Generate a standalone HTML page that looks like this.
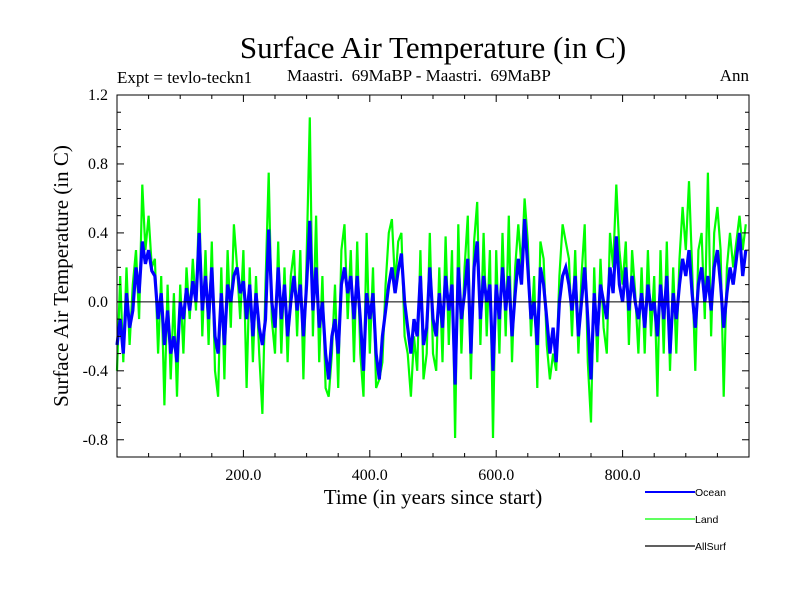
<!DOCTYPE html>
<html><head><meta charset="utf-8"><style>
body{margin:0;background:#fff;}
svg text{font-family:"Liberation Serif",serif;}
</style></head><body>
<svg id="chart" width="800" height="600" xmlns="http://www.w3.org/2000/svg">
<rect width="800" height="600" fill="#fff"/>
<text x="433" y="58" font-size="31" text-anchor="middle">Surface Air Temperature (in C)</text>
<text x="117" y="83" font-size="17">Expt = tevlo-teckn1</text>
<text x="287" y="81" font-size="17">Maastri.&#160; 69MaBP - Maastri.&#160; 69MaBP</text>
<text x="749" y="81" font-size="17" text-anchor="end">Ann</text>
<text transform="translate(68,276) rotate(-90)" font-size="21" text-anchor="middle">Surface Air Temperature (in C)</text>
<text x="433" y="504" font-size="21" text-anchor="middle">Time (in years since start)</text>
<g id="plot"></g>
<g id="axes"></g>
<g>
<line x1="645" y1="492" x2="695" y2="492" stroke="#0000ff" stroke-width="2"/>
<text x="695" y="496" font-size="10.5" style="font-family:'Liberation Sans',sans-serif">Ocean</text>
<line x1="645" y1="519" x2="695" y2="519" stroke="#00ff00" stroke-width="1.2"/>
<text x="695" y="523" font-size="10.5" style="font-family:'Liberation Sans',sans-serif">Land</text>
<line x1="645" y1="546" x2="695" y2="546" stroke="#000" stroke-width="1.2"/>
<text x="695" y="550" font-size="10.5" style="font-family:'Liberation Sans',sans-serif">AllSurf</text>
</g>
</svg>
<script>
const yearStep = 5;
const oceanValues = [-0.25,-0.1,-0.3,0.05,-0.15,-0.05,0.2,0.05,0.35,0.22,0.3,0.18,0.15,-0.1,0.05,-0.25,-0.05,-0.3,-0.2,-0.35,
0.0,-0.1,0.08,-0.05,0.12,0.0,0.4,-0.05,0.15,-0.1,0.2,-0.2,-0.3,0.05,-0.25,0.1,0.0,0.15,0.2,0.05,
0.12,-0.1,0.1,-0.2,0.05,-0.15,-0.25,-0.1,0.42,0.0,-0.15,0.2,-0.1,0.1,-0.2,0.0,0.15,-0.05,0.1,-0.2,
0.1,0.47,-0.05,0.2,-0.15,0.0,-0.3,-0.45,-0.2,-0.1,-0.3,0.1,0.2,0.05,0.15,-0.1,0.15,-0.1,-0.4,0.05,
-0.1,0.05,-0.3,-0.45,-0.2,-0.05,0.1,0.2,0.05,0.18,0.28,0.0,-0.15,-0.3,-0.1,-0.2,0.15,-0.25,-0.15,0.2,
-0.1,-0.2,0.05,-0.15,0.15,-0.05,0.1,-0.48,0.2,-0.1,0.05,0.25,-0.3,0.2,0.35,-0.1,0.15,0.0,0.1,-0.4,
0.1,-0.1,0.2,-0.05,0.15,-0.2,0.05,0.25,0.1,0.48,0.2,-0.1,0.0,-0.25,0.2,0.1,-0.1,-0.3,-0.15,-0.35,
0.0,0.15,0.2,0.1,-0.05,0.15,-0.2,0.0,0.2,-0.1,-0.45,0.05,-0.2,0.1,0.0,-0.1,0.2,0.05,0.38,0.1,
0.0,0.2,-0.05,0.15,0.0,-0.1,0.05,-0.15,0.1,-0.05,0.0,-0.2,0.1,-0.1,0.15,-0.3,0.05,-0.1,0.1,0.25,
0.15,0.3,0.05,-0.15,0.1,0.2,0.0,0.15,-0.05,0.2,0.3,0.1,-0.15,0.05,0.2,0.1,0.25,0.4,0.15,0.3];
const landValues = [-0.4,0.15,-0.35,0.2,-0.25,0.1,0.3,-0.1,0.68,0.3,0.5,0.2,0.25,-0.3,0.15,-0.6,0.1,-0.45,0.05,-0.55,
0.1,-0.3,0.2,-0.1,0.25,-0.05,0.6,-0.2,0.3,-0.25,0.35,-0.4,-0.55,0.2,-0.45,0.3,-0.15,0.45,0.2,-0.1,
0.3,-0.5,0.2,-0.35,0.15,-0.3,-0.65,0.1,0.75,-0.1,-0.3,0.35,-0.3,0.2,-0.35,0.15,0.3,-0.2,0.3,-0.45,
0.25,1.07,-0.2,0.5,-0.35,0.15,-0.5,-0.55,-0.3,0.1,-0.5,0.3,0.45,-0.1,0.3,-0.35,0.35,-0.3,-0.55,0.4,
-0.3,0.2,-0.5,-0.45,-0.35,0.1,0.4,0.48,0.1,0.35,0.4,-0.2,-0.3,-0.55,-0.2,-0.4,0.3,-0.45,-0.3,0.4,
-0.3,-0.4,0.2,-0.35,0.38,-0.25,0.3,-0.79,0.45,-0.3,0.2,0.5,-0.45,0.35,0.58,-0.25,0.4,-0.2,0.3,-0.79,
0.3,-0.3,0.4,-0.2,0.5,-0.35,0.2,0.45,0.2,0.6,0.35,-0.2,0.15,-0.5,0.35,0.25,-0.25,-0.45,-0.3,-0.4,
0.15,0.45,0.35,0.25,-0.2,0.3,-0.3,0.15,0.45,-0.35,-0.7,0.2,-0.35,0.25,-0.15,-0.3,0.4,0.2,0.68,0.3,
0.1,0.35,-0.25,0.3,0.05,-0.3,0.2,-0.3,0.3,-0.2,0.15,-0.55,0.3,-0.3,0.35,-0.4,0.2,-0.3,0.25,0.55,
0.3,0.7,0.2,-0.4,0.3,0.4,-0.1,0.75,-0.2,0.4,0.55,0.3,-0.55,0.2,0.4,0.2,0.35,0.5,0.3,0.45];
const xTickValues = [200,400,600,800];
const xTickLabels = ["200.0","400.0","600.0","800.0"];
const yTickValues = [1.2,0.8,0.4,0.0,-0.4,-0.8];
const yTickLabels = ["1.2","0.8","0.4","0.0","-0.4","-0.8"];

const NS="http://www.w3.org/2000/svg";
const L=117,R=749,T=95,B=457,XMIN=0,XMAX=1000,YMIN=-0.9,YMAX=1.2;
const xs=v=>L+(v-XMIN)/(XMAX-XMIN)*(R-L);
const ys=v=>B-(v-YMIN)/(YMAX-YMIN)*(B-T);
const plot=document.getElementById('plot'), axes=document.getElementById('axes');
function mk(tag,parent,attrs){const e=document.createElementNS(NS,tag);for(const k in attrs)e.setAttribute(k,attrs[k]);parent.appendChild(e);return e;}
function series(vals,color,w,name){
  const d=vals.map((v,i)=>(i?'L':'M')+xs(i*yearStep).toFixed(1)+','+ys(v).toFixed(1)).join('');
  const p=mk('path',plot,{d:d,fill:'none',stroke:color,'stroke-width':w,'stroke-linejoin':'miter'});
  
  
}
series(landValues,'#00ff00',2.2,'land-series');
series(oceanValues,'#0000ff',3.2,'ocean-series');
const zl=mk('line',axes,{x1:L,x2:R,y1:ys(0),y2:ys(0),stroke:'#000','stroke-width':1});


const fr=mk('rect',axes,{x:L,y:T,width:R-L,height:B-T,fill:'none',stroke:'#000','stroke-width':1});


for(let v=50;v<XMAX;v+=50){
  const major=v%200===0, len=major?7:4, x=xs(v);
  mk('line',axes,{x1:x,x2:x,y1:B,y2:B-len,stroke:'#000'});
  mk('line',axes,{x1:x,x2:x,y1:T,y2:T+len,stroke:'#000'});
}
for(let k=-8;k<=11;k++){
  const v=k/10, y=ys(v), major=(k%4===0), len=major?7:4;
  mk('line',axes,{x1:L,x2:L+len,y1:y,y2:y,stroke:'#000'});
  mk('line',axes,{x1:R,x2:R-len,y1:y,y2:y,stroke:'#000'});
}
xTickValues.forEach((v,i)=>{
  const t=mk('text',axes,{x:xs(v),y:B+23,'font-size':16,'text-anchor':'middle'});
  t.textContent=xTickLabels[i];
  
  
});
yTickValues.forEach((v,i)=>{
  const t=mk('text',axes,{x:L-9,y:ys(v)+5,'font-size':16,'text-anchor':'end'});
  t.textContent=yTickLabels[i];
  
  
});
</script>
</body></html>
